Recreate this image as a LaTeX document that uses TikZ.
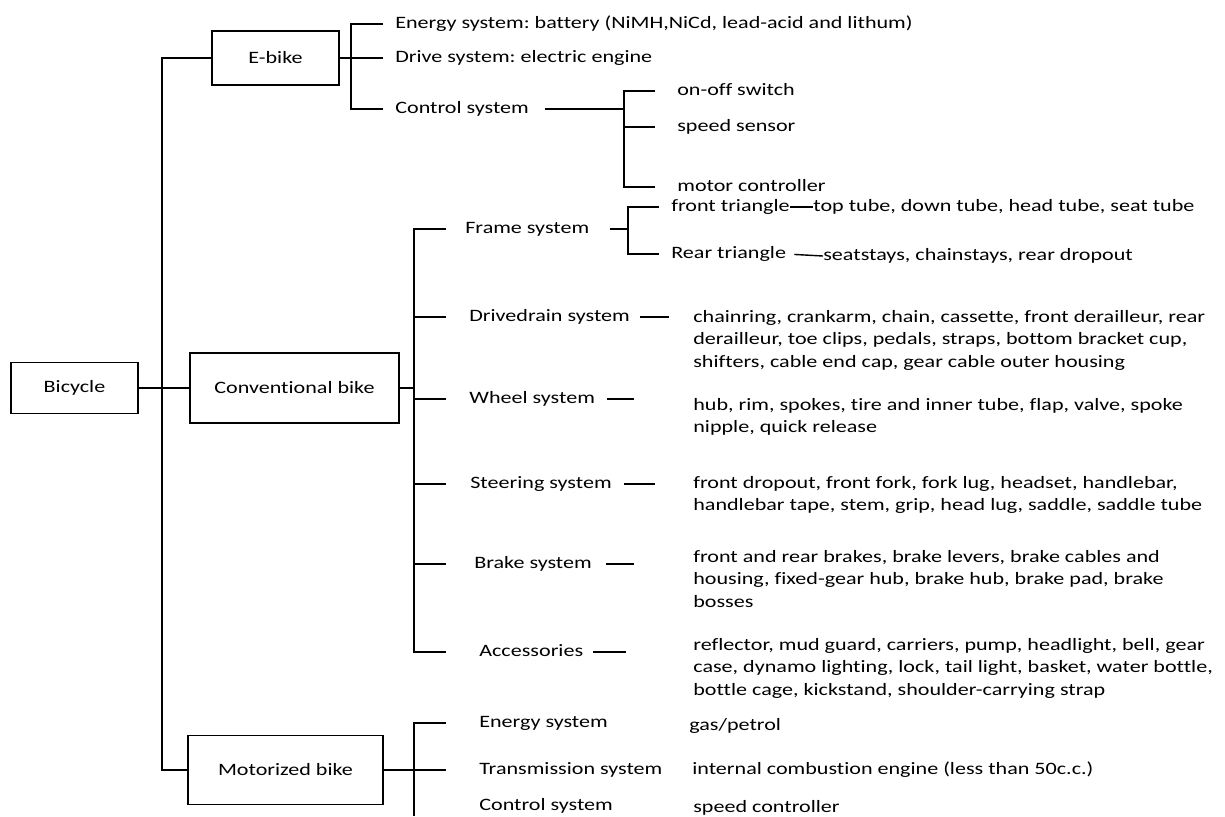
\documentclass[tikz,border=0pt]{standalone}
\usepackage{fontspec}
\setmainfont[FakeStretch=1.27, RawFeature={-liga;-clig}]{Carlito}
\usetikzlibrary{positioning}
\frenchspacing

\tikzset{
  tree/.style={line width=0.8pt},
  box/.style={draw, line width=0.8pt, inner sep=0pt, align=center},
  lbl/.style={anchor=west, inner sep=0pt, text height=0.7em, text depth=0.2em},
  parts/.style={anchor=north west, inner sep=0pt, align=left},
  gap/.style={shorten >=#1*0.02cm},
  lgap/.style={shorten <=#1*0.02cm},
}

\begin{document}
\begin{tikzpicture}[x=0.02cm, y=-0.02cm, font=\fontsize{9.9}{12.8}\selectfont]
\useasboundingbox (0,0) rectangle (1225,816);

% main boxes
\node[box, minimum width=2.54cm, minimum height=1.02cm] (bicycle) at (74.5,388) {Bicycle};
\node[box, minimum width=2.54cm, minimum height=1.08cm] (ebike) at (275.5,58) {E-bike};
\node[box, minimum width=4.18cm, minimum height=1.4cm] (conv) at (294.5,388) {Conventional bike};
\node[box, minimum width=3.9cm, minimum height=1.38cm] (motor) at (285.5,770) {Motorized bike};

% spines
\coordinate (trunk) at (162,0);
\coordinate (espine) at (351,0);
\coordinate (cspine) at (624,0);
\coordinate (vspine) at (414,0);
\coordinate (fspine) at (628,0);
\coordinate (bottom) at (414,816);

% E-bike
\node[lbl] (esys) at (395,24) {Energy system: battery (NiMH,NiCd, lead-acid and lithum)};
\node[lbl] (edrive) at (395,58) {Drive system: electric engine};
\node[lbl] (ectrl) at (395,109) {Control system};
\node[lbl] (onoff) at (677,91) {on-off switch};
\node[lbl] (speed) at (677,127) {speed sensor};
\node[lbl] (motorc) at (677,187) {motor controller};

% Conventional bike
\node[lbl] (frame) at (465,229) {Frame system};
\node[lbl] (fronttri) at (671,207) {front triangle};
\node[lbl] (toptube) at (813,207) {top tube, down tube, head tube, seat tube};
\node[lbl] (reartri) at (671,254) {Rear triangle};
\node[lbl] (seat) at (823,256) {seatstays, chainstays, rear dropout};
\node[lbl] (drive) at (469,317) {Drivedrain system};
\node[parts] (dparts) at (693,310) {chainring, crankarm, chain, cassette, front derailleur, rear\\derailleur, toe clips, pedals, straps, bottom bracket cup,\\shifters, cable end cap, gear cable outer housing};
\node[lbl] (wheel) at (469,399) {Wheel system};
\node[parts] (wparts) at (693,398) {hub, rim, spokes, tire and inner tube, flap, valve, spoke\\nipple, quick release};
\node[lbl] (steer) at (470,484) {Steering system};
\node[parts] (sparts) at (693,476) {front dropout, front fork, fork lug, headset, handlebar,\\handlebar tape, stem, grip, head lug, saddle, saddle tube};
\node[lbl] (brake) at (474,564) {Brake system};
\node[parts] (bparts) at (693,550) {front and rear brakes, brake levers, brake cables and\\housing, fixed-gear hub, brake hub, brake pad, brake\\bosses};
\node[lbl] (acc) at (479,652) {Accessories};
\node[parts] (aparts) at (693,638) {reflector, mud guard, carriers, pump, headlight, bell, gear\\case, dynamo lighting, lock, tail light, basket, water bottle,\\bottle cage, kickstand, shoulder-carrying strap};

% Motorized bike
\node[lbl] (menergy) at (479,723) {Energy system};
\node[lbl] (mtrans) at (479,770) {Transmission system};
\node[lbl] (mctrl) at (479,806) {Control system};
\node[lbl] (gas) at (689,726) {gas/petrol};
\node[lbl] (engine) at (692,770) {internal combustion engine (less than 50c.c.)};
\node[lbl] (speedc) at (693,808) {speed controller};

% connectors
\draw[tree] (bicycle.east) -- (conv.west);
\draw[tree] (ebike.west) -| (trunk |- motor.west) -- (motor.west);

\draw[tree, gap=12] (ebike.east) -- (edrive.west);
\draw[tree, lgap=12, gap=12] (esys.west) -| (espine |- ectrl.west) -- (ectrl.west);
\draw[tree, lgap=16] (ectrl.east) -- (cspine |- ectrl.east);
\draw[tree, lgap=22, gap=22] (onoff.west) -| (cspine |- motorc.west) -- (motorc.west);
\draw[tree, gap=22] (cspine |- speed.west) -- (speed.west);

\draw[tree] (conv.east) -- (vspine |- conv.east);
\draw[tree, lgap=19, gap=33] (frame.west) -| (vspine |- acc.west) -- (acc.west);
\draw[tree, gap=23] (vspine |- drive.west) -- (drive.west);
\draw[tree, gap=23] (vspine |- wheel.west) -- (wheel.west);
\draw[tree, gap=24] (vspine |- steer.west) -- (steer.west);
\draw[tree, gap=28] (vspine |- brake.west) -- (brake.west);

\draw[tree, lgap=20] (frame.east) -- (fspine |- frame.east);
\draw[tree, lgap=12, gap=12] (fronttri.west) -| (fspine |- reartri.west) -- (reartri.west);
\draw[tree] (fronttri.east) -- (toptube.west);
\draw[tree, lgap=8] (reartri.east) -- (seat.west);

\draw[tree, lgap=10, gap=24] (drive.east) -- (drive.east -| dparts.west);
\draw[tree, lgap=12, gap=59] (wheel.east) -- (wheel.east -| wparts.west);
\draw[tree, lgap=12, gap=38] (steer.east) -- (steer.east -| sparts.west);
\draw[tree, lgap=14, gap=59] (brake.east) -- (brake.east -| bparts.west);
\draw[tree, lgap=10, gap=67] (acc.east) -- (acc.east -| aparts.west);

\draw[tree, gap=33] (motor.east) -- (mtrans.west);
\draw[tree, lgap=33] (menergy.west) -| (bottom);
\end{tikzpicture}
\end{document}
